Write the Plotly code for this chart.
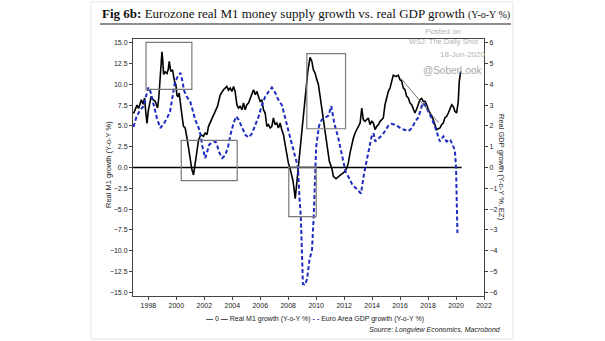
import plotly.graph_objects as go

# ---------------- data ----------------
m1_dates = [1996.94, 1997.05, 1997.19, 1997.3, 1997.42, 1997.5, 1997.62, 1997.73, 1997.82, 1997.9,
            1998.0, 1998.12, 1998.2, 1998.33, 1998.5, 1998.58, 1998.66, 1998.75, 1998.82, 1998.9,
            1998.97, 1999.03, 1999.09, 1999.2, 1999.33, 1999.42, 1999.49, 1999.6, 1999.73, 1999.85,
            1999.97, 2000.04, 2000.11, 2000.2, 2000.28, 2000.4, 2000.51, 2000.63, 2000.76, 2000.87,
            2000.99, 2001.11, 2001.23, 2001.35, 2001.47, 2001.59, 2001.76, 2001.94, 2002.06, 2002.19,
            2002.3, 2002.54, 2002.78, 2002.94, 2003.14, 2003.37, 2003.5, 2003.61, 2003.73, 2003.85,
            2003.97, 2004.09, 2004.2, 2004.33, 2004.44, 2004.56, 2004.69, 2004.8, 2004.92, 2005.04,
            2005.16, 2005.28, 2005.4, 2005.52, 2005.64, 2005.76, 2005.87, 2005.99, 2006.11, 2006.23,
            2006.35, 2006.47, 2006.59, 2006.71, 2006.83, 2006.94, 2007.06, 2007.18, 2007.3, 2007.42,
            2007.54, 2007.66, 2007.78, 2007.9, 2008.01, 2008.14, 2008.25, 2008.33, 2008.42, 2008.5,
            2008.61, 2008.73, 2008.8, 2008.97, 2009.2, 2009.4, 2009.56, 2009.69, 2009.8, 2009.92,
            2010.04, 2010.16, 2010.28, 2010.47, 2010.64, 2010.8, 2010.94, 2011.11, 2011.23, 2011.42,
            2011.59, 2011.76, 2011.94, 2012.06, 2012.19, 2012.3, 2012.42, 2012.54, 2012.66, 2012.78,
            2012.9, 2013.02, 2013.14, 2013.26, 2013.37, 2013.49, 2013.61, 2013.73, 2013.85, 2013.97,
            2014.09, 2014.21, 2014.33, 2014.45, 2014.57, 2014.69, 2014.8, 2014.92, 2015.04, 2015.16,
            2015.28, 2015.4, 2015.51, 2015.6, 2015.71, 2015.87, 2015.99, 2016.11, 2016.23, 2016.35,
            2016.47, 2016.59, 2016.71, 2016.83, 2016.94, 2017.06, 2017.18, 2017.3, 2017.42, 2017.54,
            2017.66, 2017.78, 2017.9, 2018.02, 2018.14, 2018.26, 2018.37, 2018.49, 2018.61, 2018.73,
            2018.85, 2018.97, 2019.09, 2019.2, 2019.33, 2019.45, 2019.57, 2019.69, 2019.8, 2019.92,
            2020.04, 2020.16, 2020.23, 2020.33]
m1_growth = [6.5, 7.0, 7.5, 7.1, 7.9, 8.15, 7.6, 8.35, 6.5, 5.3,
             6.9, 8.0, 8.55, 8.15, 7.95, 7.5, 7.15, 8.5, 10.0, 12.3,
             13.9, 12.8, 11.2, 11.5, 11.3, 11.8, 12.75, 11.55, 11.75, 10.5,
             9.9, 8.7, 8.5, 8.95, 8.1, 6.3, 4.95, 4.75, 3.55, 2.35,
             0.75, -0.25, -0.9, 0.75, 2.35, 3.35, 3.95, 3.75, 4.15, 3.95,
             4.95, 5.95, 6.75, 7.35, 8.75, 9.35, 9.55, 9.75, 9.3, 9.55,
             9.15, 9.75, 9.15, 7.55, 7.15, 7.35, 6.95, 7.75, 6.95, 7.55,
             7.75, 8.35, 8.75, 9.35, 8.75, 9.15, 8.55, 7.95, 8.15, 6.95,
             6.55, 4.95, 5.15, 4.75, 4.95, 5.95, 5.15, 5.35, 4.75, 5.35,
             4.55, 3.95, 2.75, 1.35, 0.55, -0.2, -0.9, -1.5, -2.6, -3.75,
             -1.9, 0.1, 2.1, 4.35, 8.75, 11.55, 13.25, 12.75, 11.75, 11.35,
             10.6, 9.95, 8.55, 6.35, 3.95, 2.35, 0.75, -0.05, -1.05, -1.35,
             -1.05, -0.85, -0.65, -0.45, -0.05, 0.55, 1.75, 2.75, 3.55, 4.15,
             4.55, 4.95, 5.35, 7.15, 5.75, 5.55, 5.75, 5.95, 5.15, 5.55,
             5.35, 4.55, 4.95, 5.15, 5.55, 5.75, 5.95, 7.55, 8.35, 9.15,
             9.55, 10.55, 11.1, 11.0, 10.95, 11.1, 10.55, 10.4, 9.55, 9.35,
             8.55, 8.35, 7.75, 7.55, 7.0, 6.55, 7.0, 7.6, 8.15, 8.3,
             7.95, 7.95, 7.55, 6.95, 6.55, 6.15, 5.75, 5.15, 4.55, 4.65,
             4.75, 5.15, 5.35, 5.95, 6.15, 6.55, 7.15, 7.55, 7.35, 6.75,
             6.55, 7.95, 10.35, 11.55]

gdp_dates = [1996.94, 1997.15, 1997.4, 1997.65, 1997.8, 1998.0, 1998.15, 1998.4, 1998.6, 1998.85,
             1999.1, 1999.35, 1999.55, 1999.7, 1999.9, 2000.15, 2000.3, 2000.45, 2000.55, 2000.75,
             2001.0, 2001.15, 2001.35, 2001.6, 2001.75, 2001.85, 2001.97, 2002.06, 2002.2, 2002.35,
             2002.55, 2002.8, 2002.92, 2003.05, 2003.28, 2003.5, 2003.7, 2003.88, 2004.1, 2004.28,
             2004.45, 2004.7, 2004.95, 2005.2, 2005.42, 2005.65, 2005.88, 2006.12, 2006.35, 2006.6,
             2006.83, 2007.07, 2007.3, 2007.55, 2007.8, 2008.02, 2008.27, 2008.5, 2008.7, 2008.8,
             2008.9, 2009.0, 2009.05, 2009.2, 2009.35, 2009.52, 2009.7, 2009.82, 2009.93, 2010.0,
             2010.2, 2010.4, 2010.65, 2010.88, 2011.08, 2011.3, 2011.55, 2011.75, 2011.9, 2012.1,
             2012.35, 2012.6, 2012.85, 2013.1, 2013.2, 2013.45, 2013.7, 2013.95, 2014.1, 2014.22,
             2014.45, 2014.7, 2014.92, 2015.15, 2015.4, 2015.65, 2015.9, 2016.12, 2016.37, 2016.6,
             2016.85, 2017.07, 2017.3, 2017.45, 2017.62, 2017.8, 2018.02, 2018.27, 2018.5, 2018.72,
             2018.85, 2019.1, 2019.33, 2019.57, 2019.76, 2019.92, 2020.0, 2020.1]
gdp_growth = [1.95, 2.45, 2.75, 2.95, 3.35, 3.85, 3.65, 3.0, 2.4, 1.9,
              2.1, 2.4, 2.7, 3.3, 4.1, 4.45, 4.55, 4.1, 3.7, 3.4,
              3.15, 2.8, 2.3, 1.9, 1.5, 1.05, 0.6, 0.45, 0.75, 1.1,
              1.2, 1.25, 1.05, 0.75, 0.45, 0.6, 1.0, 1.6, 2.15, 2.45,
              2.3, 1.9, 1.55, 1.45, 1.65, 2.05, 2.45, 3.0, 3.4, 3.65,
              3.85, 3.6, 3.25, 3.0, 2.4, 1.75, 1.1, 0.5, 0.0, -1.4,
              -2.4, -4.5, -5.6, -5.65, -5.35, -4.45, -3.95, -2.4, 0.0, 1.0,
              2.0, 2.3, 2.4, 2.5, 2.95, 2.1, 1.5, 0.9, 0.3, -0.2,
              -0.5, -0.85, -1.0, -1.2, -1.25, -0.2, 0.55, 1.45, 1.65, 1.25,
              1.4, 1.55, 1.75, 2.0, 2.1, 2.05, 1.95, 1.85, 1.8, 1.75,
              1.9, 2.2, 2.4, 2.75, 3.1, 3.0, 2.7, 2.35, 1.95, 1.5,
              1.25, 1.5, 1.25, 1.35, 1.1, 0.8, 0.0, -3.15]

zero_dates = [1996.9, 2020.4]
zero_values = [0, 0]

x_ticks = [1998, 2000, 2002, 2004, 2006, 2008, 2010, 2012, 2014, 2016, 2018, 2020, 2022]

# highlight boxes drawn by the author (x0, x1, y0, y1) on the M1 axis
highlight_boxes = [(1997.83, 2001.11, 9.4, 15.05),
                   (2000.35, 2004.35, -1.59, 3.27),
                   (2008.04, 2010.0, -5.9, 0.05),
                   (2009.33, 2012.1, 4.66, 13.7)]
trend_segment = [(2016.06, 10.72), (2018.73, 5.43)]

# ---------------- layout helpers ----------------
W, H = 605, 341
L, R, T, B = 133, 484, 39, 296


def px(x):
    return (x - L) / (R - L)


def py(y):
    return (B - y) / (B - T)


BLUE = "#1d2cc0"
AX = "#444444"
TXT = "#222222"

fig = go.Figure()
fig.add_trace(go.Scatter(x=zero_dates, y=zero_values, mode="lines", name="0",
                         line=dict(color="black", width=1.5), showlegend=False))
fig.add_trace(go.Scatter(x=m1_dates, y=m1_growth, mode="lines", name="Real M1 growth (Y-o-Y %)",
                         line=dict(color="black", width=1.6), showlegend=False))
fig.add_trace(go.Scatter(x=gdp_dates, y=gdp_growth, mode="lines", name="Euro Area GDP growth (Y-o-Y %)",
                         line=dict(color=BLUE, width=2, dash="4px,2.5px"), yaxis="y2",
                         showlegend=False))

shapes = []
for (x0, x1, y0, y1) in highlight_boxes:
    shapes.append(dict(type="rect", xref="x", yref="y", x0=x0, x1=x1, y0=y0, y1=y1,
                       line=dict(color="#7a7a7a", width=1.2), fillcolor="rgba(0,0,0,0)"))
shapes.append(dict(type="line", xref="x", yref="y", x0=trend_segment[0][0], y0=trend_segment[0][1],
                   x1=trend_segment[1][0], y1=trend_segment[1][1],
                   line=dict(color="#555555", width=0.8)))
# outer panel border
shapes.append(dict(type="rect", xref="paper", yref="paper", x0=px(91), x1=px(513), y0=py(339), y1=py(2),
                   line=dict(color="#e4e4e4", width=1), layer="below"))
# title underline
shapes.append(dict(type="line", xref="paper", yref="paper", x0=px(100), x1=px(511), y0=py(24), y1=py(24),
                   line=dict(color="#666666", width=1.5)))

ann = []
ann.append(dict(xref="paper", yref="paper", x=px(100), y=py(14), xanchor="left", yanchor="middle",
                showarrow=False,
                text="<b>Fig 6b:</b> Eurozone real M1 money supply growth vs. real GDP growth "
                     "<span style='font-size:10px'>(Y-o-Y %)</span>",
                font=dict(family="Liberation Serif", size=13, color="#111111")))
# watermark
wm = "#b4b4b4"
ann.append(dict(xref="paper", yref="paper", x=px(423), y=py(31), xanchor="left", yanchor="middle",
                showarrow=False, text="Posted on", font=dict(family="Liberation Sans", size=8, color=wm)))
ann.append(dict(xref="paper", yref="paper", x=px(481), y=py(42), xanchor="right", yanchor="middle",
                showarrow=False, text="WSJ: The Daily Shot", font=dict(family="Liberation Sans", size=7.5, color=wm)))
ann.append(dict(xref="paper", yref="paper", x=px(487), y=py(54), xanchor="right", yanchor="middle",
                showarrow=False, text="18-Jun-2020", font=dict(family="Liberation Sans", size=8, color=wm)))
ann.append(dict(xref="paper", yref="paper", x=px(421), y=py(70), xanchor="left", yanchor="middle",
                showarrow=False, text="@SoberLook", font=dict(family="Liberation Sans", size=10, color="#a8a8a8")))
# axis titles
ann.append(dict(xref="paper", yref="paper", x=px(108), y=py(165), xanchor="center", yanchor="middle",
                showarrow=False, textangle=-90, text="Real M1 growth (Y-o-Y %)",
                font=dict(family="Liberation Sans", size=7.5, color=TXT)))
ann.append(dict(xref="paper", yref="paper", x=px(502), y=py(167), xanchor="center", yanchor="middle",
                showarrow=False, textangle=90, text="Real GDP growth (Y-o-Y %, EZ)",
                font=dict(family="Liberation Sans", size=7.5, color=TXT)))
# legend
ann.append(dict(xref="paper", yref="paper", x=px(204), y=py(319), xanchor="left", yanchor="middle",
                showarrow=False,
                text="<b>—</b> 0 <b>—</b> Real M1 growth (Y-o-Y %) "
                     "<span style='color:" + BLUE + "'><b>- -</b></span> Euro Area GDP growth (Y-o-Y %)",
                font=dict(family="Liberation Sans", size=7, color=TXT)))
# source
ann.append(dict(xref="paper", yref="paper", x=px(503), y=py(330), xanchor="right", yanchor="middle",
                showarrow=False, text="<i>Source: Longview Economics, Macrobond</i>",
                font=dict(family="Liberation Sans", size=7, color=TXT)))

tickfont = dict(family="Liberation Sans", size=7, color=TXT)
fig.update_layout(
    width=W, height=H,
    margin=dict(l=L, r=W - R, t=T, b=H - B, pad=0),
    paper_bgcolor="white", plot_bgcolor="white",
    showlegend=False,
    xaxis=dict(range=[1996.9, 2022.0], tickvals=x_ticks, ticktext=[str(v) for v in x_ticks],
               ticks="outside", ticklen=3, tickcolor=AX, showline=True, linecolor=AX, linewidth=1,
               mirror=True, showgrid=False, zeroline=False, tickfont=tickfont),
    yaxis=dict(range=[-15.45, 15.45], tick0=0, dtick=2.5, tickformat=".1f",
               ticks="outside", ticklen=3, tickcolor=AX, showline=True, linecolor=AX, linewidth=1,
               showgrid=False, zeroline=False, tickfont=tickfont),
    yaxis2=dict(range=[-6.18, 6.18], tick0=0, dtick=1, overlaying="y", side="right",
                ticks="outside", ticklen=3, tickcolor=AX, showline=True, linecolor=AX, linewidth=1,
                showgrid=False, zeroline=False, tickfont=tickfont),
    shapes=shapes,
    annotations=ann,
)

fig.write_html("out.html")
